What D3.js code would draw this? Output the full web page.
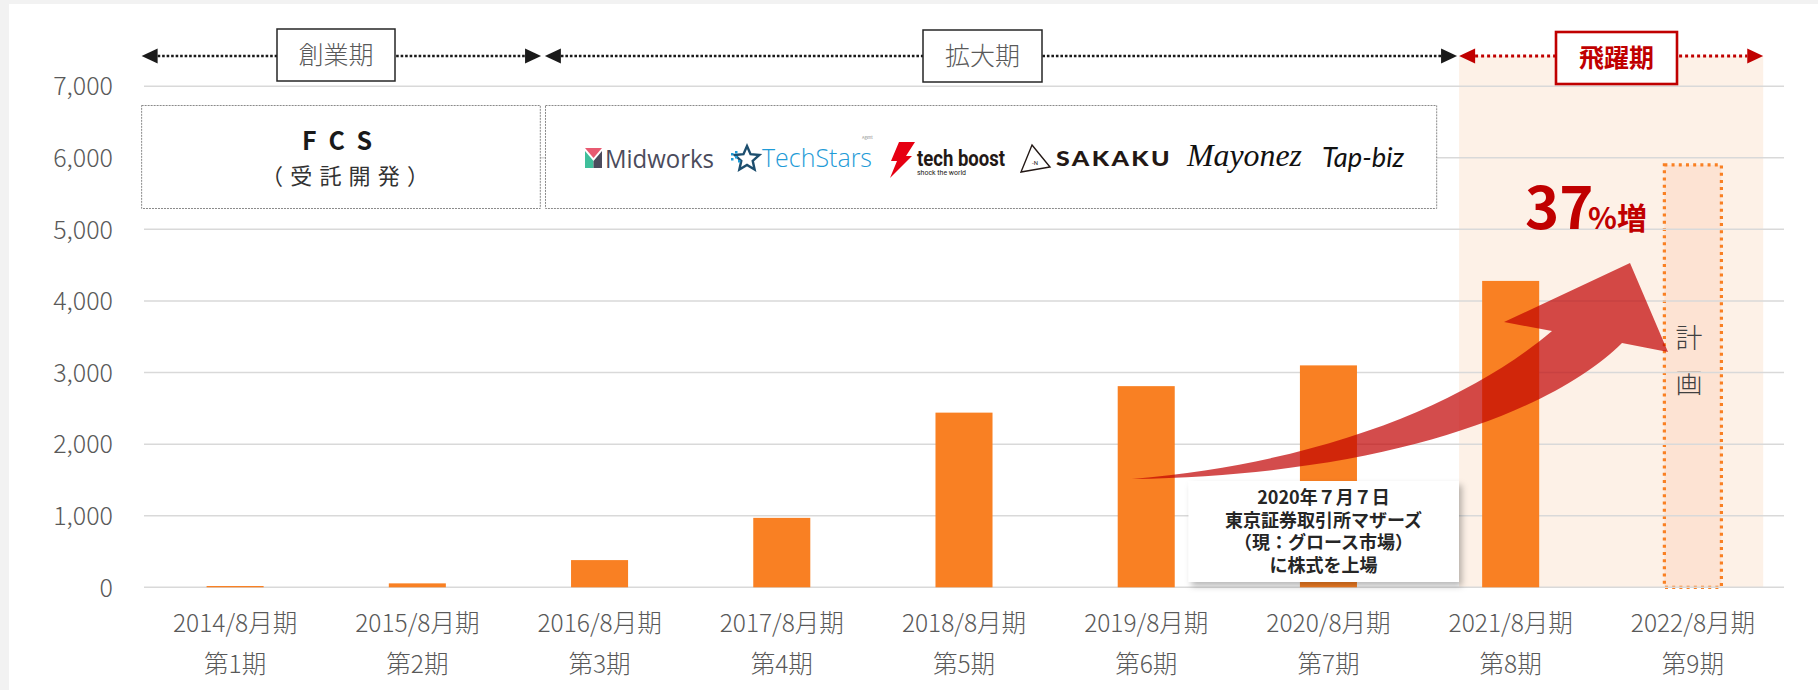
<!DOCTYPE html>
<html>
<head>
<meta charset="utf-8">
<script src="https://cdn.jsdelivr.net/npm/d3@7"></script>
<style>
  html, body { margin: 0; padding: 0; background: #f2f2f2; }
  svg { display: block; }
</style>
</head>
<body>
<svg id="chart" width="1818" height="690"></svg>
<script>
// values (売上高, 百万円)
const periods = ["2014/8月期", "2015/8月期", "2016/8月期", "2017/8月期", "2018/8月期",
                 "2019/8月期", "2020/8月期", "2021/8月期", "2022/8月期"];
const terms = ["第1期", "第2期", "第3期", "第4期", "第5期", "第6期", "第7期", "第8期", "第9期"];
const actualSales = [18, 55, 380, 970, 2440, 2810, 3100, 4280];
const planSales = [5900];
const yTicks = [0, 1000, 2000, 3000, 4000, 5000, 6000, 7000];
const phaseLabels = ["創業期", "拡大期", "飛躍期"];
const listingNote = ["2020年７月７日", "東京証券取引所マザーズ", "（現：グロース市場）", "に株式を上場"];
const growthLabel = ["37", "%増"];
const planLabel = ["計", "画"];

const FONT = "'Noto Sans CJK JP', 'Noto Sans', sans-serif";
const ORANGE = "#f98023", RED = "#c00000", GREY = "#595959";

const svg = d3.select("#chart");
const defs = svg.append("defs");
defs.append("filter").attr("id", "shadow")
    .attr("x", "-10%").attr("y", "-10%").attr("width", "130%").attr("height", "140%")
  .append("feDropShadow")
    .attr("dx", 3).attr("dy", 4).attr("stdDeviation", 3)
    .attr("flood-color", "#000").attr("flood-opacity", 0.28);

// white card
svg.append("rect").attr("x", 9).attr("y", 4).attr("width", 1818).attr("height", 690).attr("fill", "#fff");

const x = d3.scaleBand().domain(periods).range([144, 1784]).paddingInner(0.687).paddingOuter(0.3435);
const y = d3.scaleLinear().domain([0, 7000]).range([587.3, 86.2]);
const step = x.step();
const ux = u => x.range()[0] + u * step;   // position in category units
const arrowY = 56;

// phase spans in category units
const spans = [[-0.013, 2.179], [2.2, 7.206], [7.217, 8.886]];

// 飛躍期 background
svg.append("rect")
  .attr("x", ux(spans[2][0])).attr("y", arrowY)
  .attr("width", ux(spans[2][1]) - ux(spans[2][0])).attr("height", y(0) - arrowY)
  .attr("fill", "#fdf1e7");

// plan bar fill (under the grid)
const planG = svg.append("g");
planG.selectAll("rect").data(planSales).join("rect")
  .attr("x", x(periods[8])).attr("y", d => y(d))
  .attr("width", x.bandwidth()).attr("height", d => y(0) - y(d))
  .attr("fill", "#fde3d3");

// grid
svg.append("g").selectAll("line").data(yTicks).join("line")
  .attr("x1", x.range()[0]).attr("x2", x.range()[1])
  .attr("y1", d => y(d)).attr("y2", d => y(d))
  .attr("stroke", "#d9d9d9").attr("stroke-width", 1.5);

// y axis labels
const yAxis = d3.axisLeft(y).tickValues(yTicks).tickFormat(d3.format(",")).tickSize(0).tickPadding(0);
svg.append("g").attr("transform", "translate(113,0)").call(yAxis)
  .call(g => g.select(".domain").remove())
  .selectAll("text")
    .attr("font-family", FONT).attr("font-size", 25).attr("font-weight", 300)
    .attr("fill", GREY).attr("dy", "0.35em");

// x axis labels, two lines
const xl = svg.append("g").selectAll("g").data(periods).join("g")
  .attr("transform", d => `translate(${x(d) + x.bandwidth() / 2},0)`)
  .attr("font-family", FONT).attr("font-size", 24.5).attr("font-weight", 300)
  .attr("fill", GREY).attr("text-anchor", "middle");
xl.append("text").attr("y", 623).attr("dy", "0.35em").text(d => d);
xl.append("text").attr("y", 664).attr("dy", "0.35em").text((d, i) => terms[i]);

// actual bars
svg.append("g").selectAll("rect").data(actualSales).join("rect")
  .attr("x", (d, i) => x(periods[i])).attr("y", d => y(d))
  .attr("width", x.bandwidth()).attr("height", d => y(0) - y(d))
  .attr("fill", ORANGE);

// plan bar outline
planG.selectAll("rect.outline").data(planSales).join("rect")
  .attr("class", "outline")
  .attr("x", x(periods[8])).attr("y", d => y(d))
  .attr("width", x.bandwidth()).attr("height", d => y(0) - y(d))
  .attr("fill", "none").attr("stroke", ORANGE).attr("stroke-width", 3.2)
  .attr("stroke-dasharray", "3,4.2");

planG.selectAll("text").data(planLabel).join("text")
  .attr("x", x(periods[8]) + x.bandwidth() / 2 - 4)
  .attr("y", (d, i) => 339 + i * 45).attr("dy", "0.35em")
  .attr("text-anchor", "middle")
  .attr("font-family", FONT).attr("font-size", 27).attr("font-weight", 300)
  .attr("fill", "#404040").text(d => d);

// phase arrows
function phaseArrow(x0, x1, color, dash, sw) {
  const g = svg.append("g").attr("fill", color);
  const hl = 16, hh = 7.5;
  g.append("line").attr("x1", x0 + hl).attr("x2", x1 - hl).attr("y1", arrowY).attr("y2", arrowY)
    .attr("stroke", color).attr("stroke-width", sw).attr("stroke-dasharray", dash);
  g.append("path").attr("d", `M${x0},${arrowY}L${x0 + hl},${arrowY - hh}L${x0 + hl},${arrowY + hh}Z`);
  g.append("path").attr("d", `M${x1},${arrowY}L${x1 - hl},${arrowY - hh}L${x1 - hl},${arrowY + hh}Z`);
}
phaseArrow(ux(spans[0][0]), ux(spans[0][1]), "#1a1a1a", "2.6,1.9", 2.6);
phaseArrow(ux(spans[1][0]), ux(spans[1][1]), "#1a1a1a", "2.6,1.9", 2.6);
phaseArrow(ux(spans[2][0]), ux(spans[2][1]), RED, "3,3", 2.8);

// phase label boxes
const phaseBoxes = [
  {x: 277, y: 29, w: 118, h: 52, stroke: "#262626", sw: 1.5, fill: GREY, weight: 300},
  {x: 923, y: 30, w: 119, h: 52, stroke: "#262626", sw: 1.5, fill: GREY, weight: 300},
  {x: 1556, y: 32, w: 121, h: 52, stroke: RED, sw: 2.6, fill: RED, weight: 700}
];
phaseBoxes.forEach((b, i) => {
  svg.append("rect").attr("x", b.x).attr("y", b.y).attr("width", b.w).attr("height", b.h)
    .attr("fill", "#fff").attr("stroke", b.stroke).attr("stroke-width", b.sw);
  svg.append("text").attr("x", b.x + b.w / 2).attr("y", b.y + b.h / 2).attr("dy", "0.36em")
    .attr("text-anchor", "middle").attr("font-family", FONT).attr("font-size", 25)
    .attr("font-weight", b.weight).attr("fill", b.fill).text(phaseLabels[i]);
});

// service boxes
const boxTop = 105.5, boxH = 103;
[[ux(spans[0][0]), 540.3], [545.5, 1436.7]].forEach(([a, b]) => {
  svg.append("rect").attr("x", a).attr("y", boxTop).attr("width", b - a).attr("height", boxH)
    .attr("fill", "#fff").attr("stroke", "#8a8a8a").attr("stroke-width", 1)
    .attr("stroke-dasharray", "2,1");
});
svg.append("text").attr("x", 337).attr("y", 150).attr("text-anchor", "middle")
  .attr("font-family", FONT).attr("font-size", 25).attr("font-weight", 700).attr("fill", "#1a1a1a")
  .attr("textLength", 70).attr("lengthAdjust", "spacing").text("FCS");
svg.append("text").attr("x", 345).attr("y", 184).attr("text-anchor", "middle")
  .attr("font-family", FONT).attr("font-size", 22).attr("font-weight", 400).attr("fill", "#333")
  .attr("textLength", 168).attr("lengthAdjust", "spacing").text("（受託開発）");

// brand logos (drawn as text)
const logos = svg.append("g");
logos.append("path").attr("d", "M585,148L602,148L593.5,158Z").attr("fill", "#e85a71");
logos.append("path").attr("d", "M585,151L593.5,161L593.5,168L585,168Z").attr("fill", "#3fbf9b");
logos.append("path").attr("d", "M602,151L593.5,161L593.5,168L602,168Z").attr("fill", "#4b4b5c");
logos.append("text").attr("x", 605).attr("y", 167.5).attr("font-family", "'Open Sans', sans-serif")
  .attr("font-size", 25).attr("fill", "#4b4b5c").attr("textLength", 109)
  .attr("lengthAdjust", "spacingAndGlyphs").text("Midworks");

const star = d3.range(10).map(k => {
  const a = -Math.PI / 2 + k * Math.PI / 5, r = k % 2 ? 6 : 13;
  return [747 + r * Math.cos(a), 159 + r * Math.sin(a)];
});
logos.append("path").attr("d", "M" + star.join("L") + "Z").attr("fill", "none")
  .attr("stroke", "#1d4e6e").attr("stroke-width", 2.4);
[[731, 153], [735, 156], [731, 158], [735, 151], [738, 160]].forEach(([a, b]) =>
  logos.append("rect").attr("x", a).attr("y", b).attr("width", 2.5).attr("height", 2.5).attr("fill", "#1d9bd7"));
logos.append("text").attr("x", 762).attr("y", 167).attr("font-family", "'Open Sans', sans-serif")
  .attr("font-size", 25).attr("font-weight", 300).attr("fill", "#1f9bd7").attr("textLength", 110)
  .attr("lengthAdjust", "spacingAndGlyphs").text("TechStars");
logos.append("text").attr("x", 862).attr("y", 139).attr("font-family", FONT).attr("font-size", 4)
  .attr("fill", "#888").text("Agent");

logos.append("path").attr("d", "M899,142L915,142L906,156L912,156L890,178L897,161L891,161Z").attr("fill", "#e60012");
logos.append("text").attr("x", 917).attr("y", 165.5).attr("font-family", "Roboto, sans-serif")
  .attr("font-size", 22).attr("font-weight", 700).attr("fill", "#231815").attr("textLength", 88)
  .attr("lengthAdjust", "spacingAndGlyphs").text("tech boost");
logos.append("text").attr("x", 917).attr("y", 175).attr("font-family", "Roboto, sans-serif")
  .attr("font-size", 7).attr("fill", "#231815").attr("textLength", 49)
  .attr("lengthAdjust", "spacingAndGlyphs").text("shock the world");

logos.append("path").attr("d", "M1032,145L1050,167L1021,172Z").attr("fill", "none")
  .attr("stroke", "#231815").attr("stroke-width", 1.4);
logos.append("text").attr("x", 1035).attr("y", 165).attr("text-anchor", "middle")
  .attr("font-family", "Roboto, sans-serif").attr("font-size", 6).attr("fill", "#231815").text("-N");
logos.append("text").attr("x", 1056).attr("y", 165.7).attr("font-family", "Lato, sans-serif")
  .attr("font-size", 21).attr("font-weight", 900).attr("fill", "#231815")
  .attr("letter-spacing", 2).attr("textLength", 116)
  .attr("lengthAdjust", "spacingAndGlyphs").text("SAKAKU");

logos.append("text").attr("x", 1187).attr("y", 165.7).attr("font-family", "'Liberation Serif', serif")
  .attr("font-size", 31).attr("font-style", "italic").attr("fill", "#111").attr("textLength", 115)
  .attr("lengthAdjust", "spacingAndGlyphs").text("Mayonez");
logos.append("text").attr("x", 1322).attr("y", 166.7).attr("font-family", "Lato, sans-serif")
  .attr("font-size", 27).attr("font-style", "italic").attr("font-weight", 400).attr("fill", "#111")
  .attr("textLength", 82).attr("lengthAdjust", "spacingAndGlyphs").text("Tap-biz");

// growth arrow
svg.append("path")
  .attr("d", "M1132,479C1330,462 1470,400 1552,331L1504,322L1630,263L1668,352L1622,343C1560,405 1400,475 1132,479Z")
  .attr("fill", RED).attr("fill-opacity", 0.7);

const growth = svg.append("text").attr("font-family", FONT).attr("font-weight", 700).attr("fill", RED);
growth.append("tspan").attr("x", 1525).attr("y", 228.5).attr("font-size", 58).text(growthLabel[0]);
growth.append("tspan").attr("x", 1588).attr("y", 228.5).attr("font-size", 30).text(growthLabel[1]);

// listing note
svg.append("rect").attr("x", 1188.5).attr("y", 481).attr("width", 270.5).attr("height", 101)
  .attr("fill", "#fff").attr("filter", "url(#shadow)");
svg.append("g").selectAll("text").data(listingNote).join("text")
  .attr("x", 1323.5).attr("y", (d, i) => 498 + i * 22.4).attr("dy", "0.36em")
  .attr("text-anchor", "middle").attr("font-family", FONT).attr("font-size", 18)
  .attr("font-weight", 700).attr("fill", "#262626").text(d => d);
</script>
</body>
</html>
